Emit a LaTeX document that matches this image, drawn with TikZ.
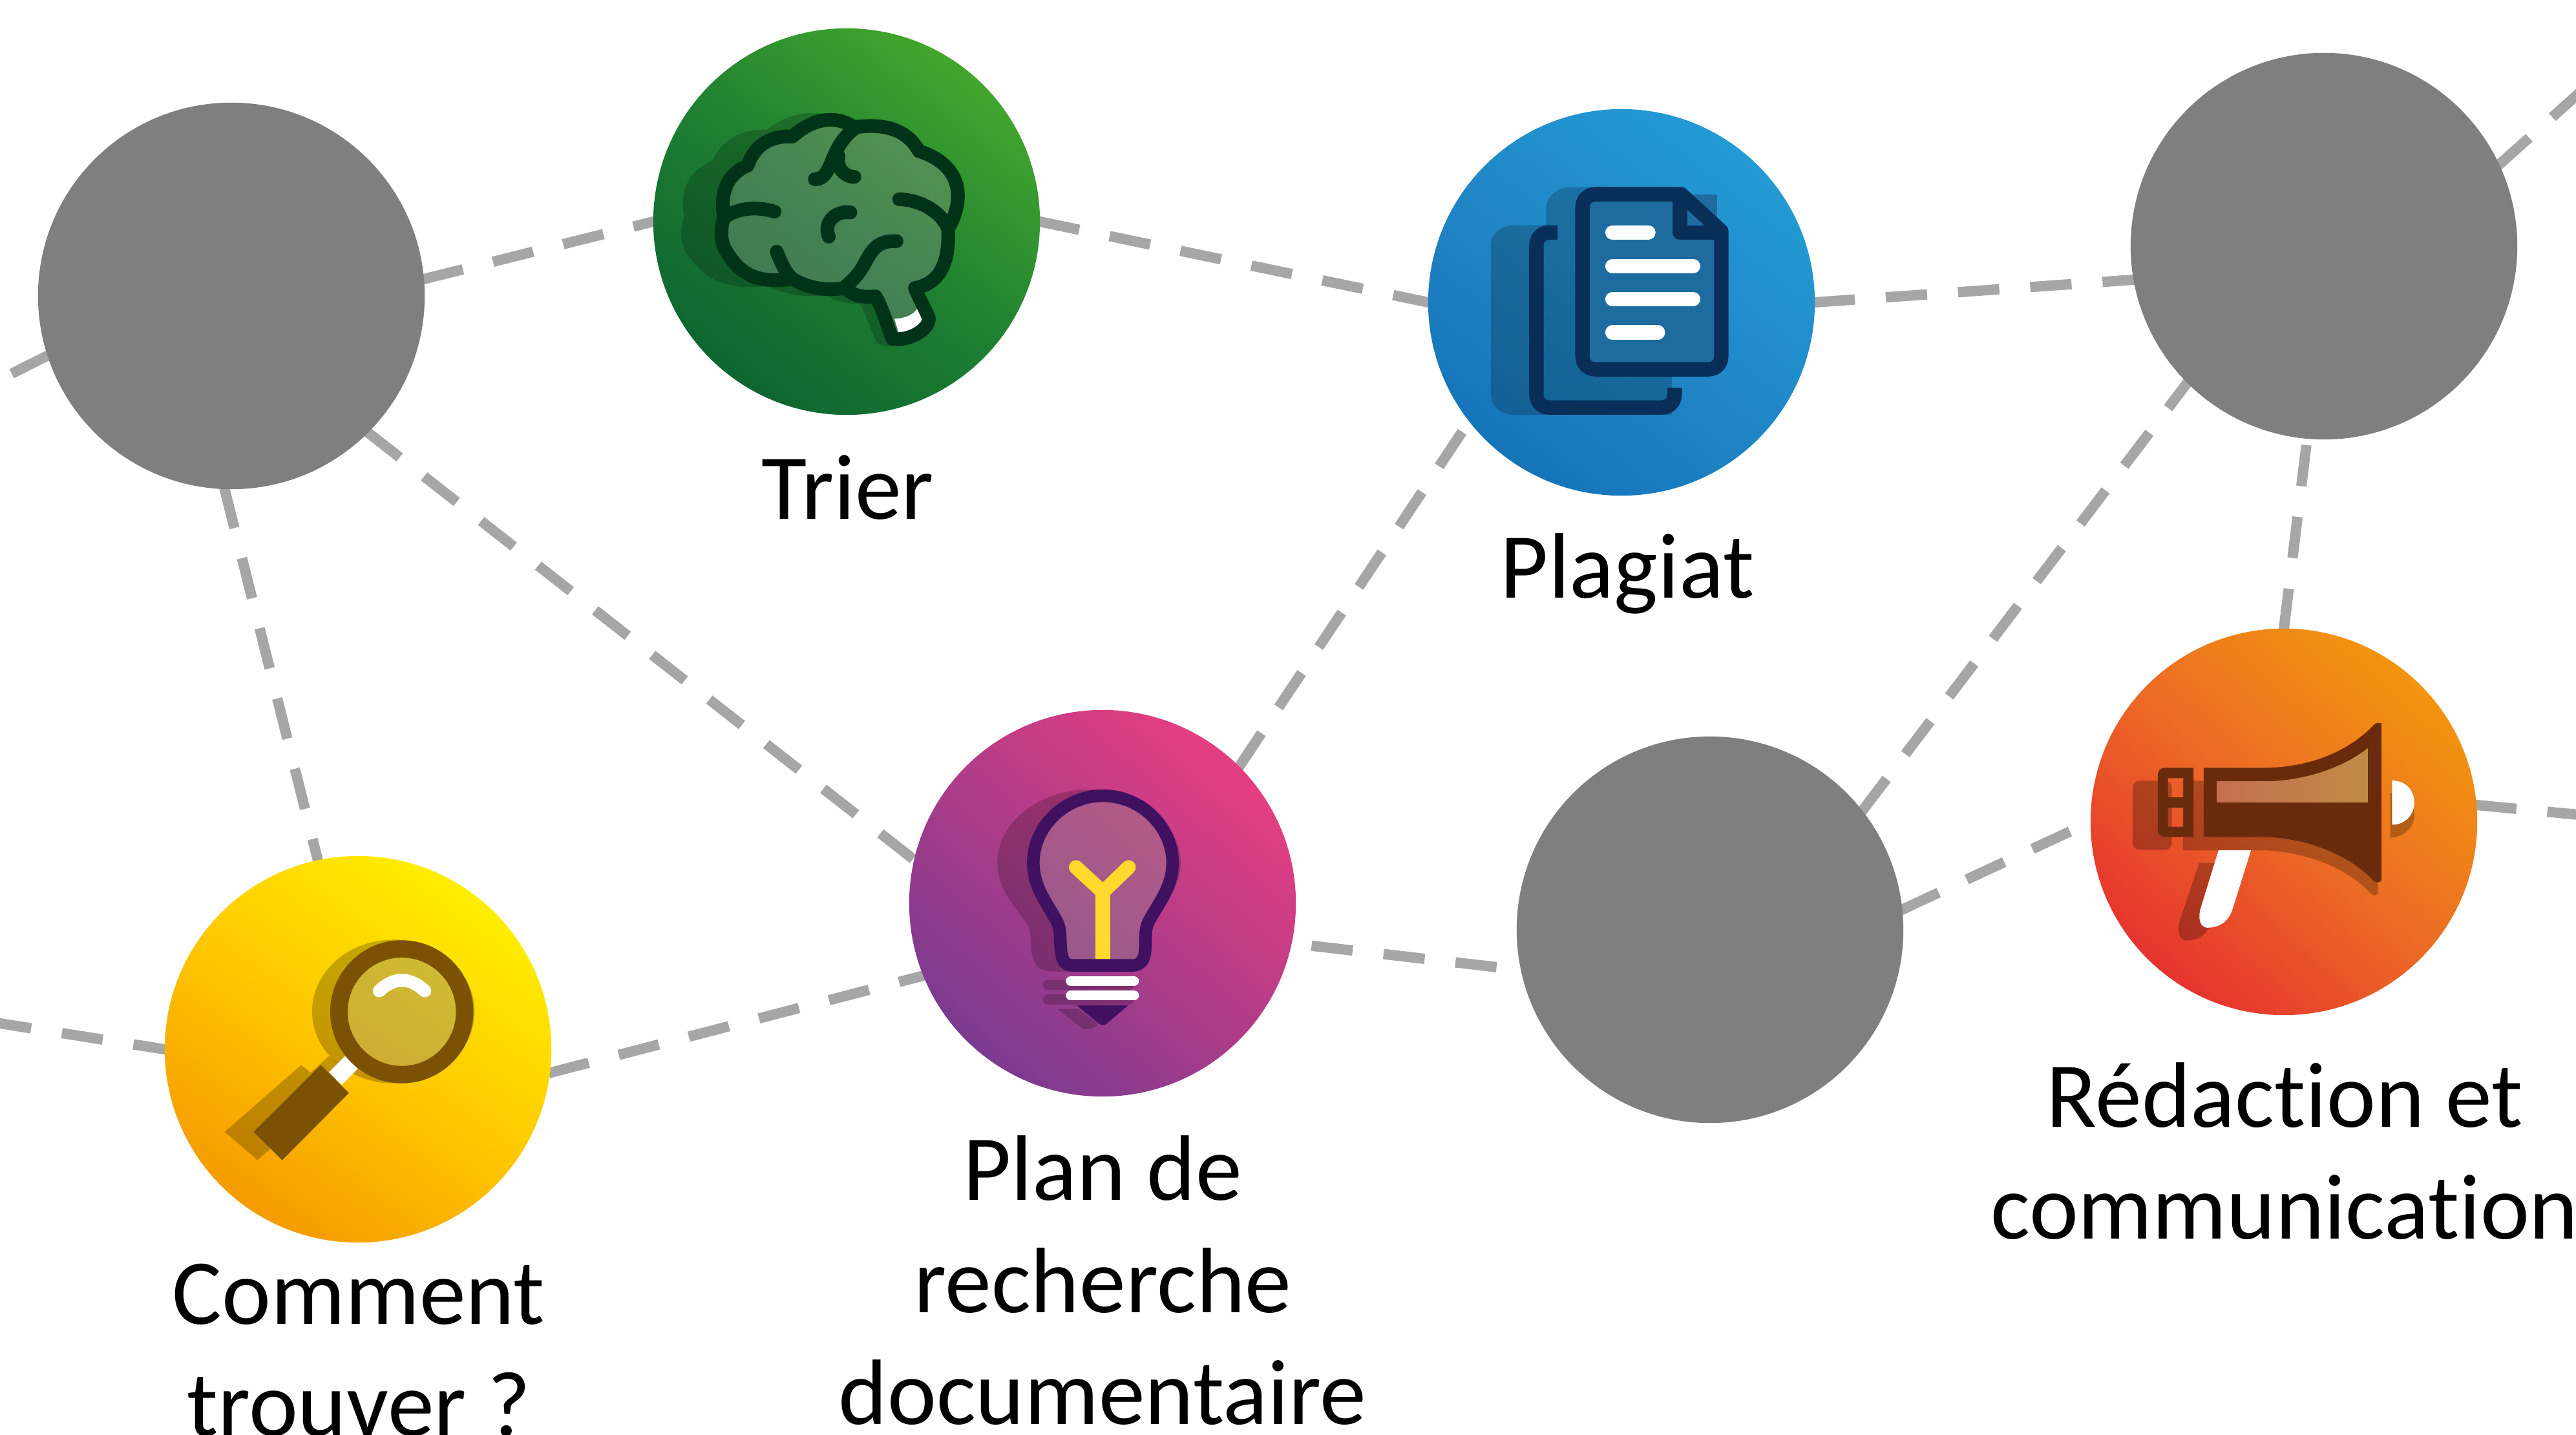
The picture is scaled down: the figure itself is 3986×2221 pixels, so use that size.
\documentclass[tikz,border=0pt]{standalone}
\usepackage{fontspec}
\setmainfont[Ligatures=NoCommon]{Carlito}
\usetikzlibrary{backgrounds}
\definecolor{gO}{HTML}{45A92D}\definecolor{gM}{HTML}{1F8032}\definecolor{gI}{HTML}{0A6030}
\definecolor{bO}{HTML}{229CD6}\definecolor{bM}{HTML}{2187C6}\definecolor{bI}{HTML}{1370B6}
\definecolor{pO}{HTML}{E93E80}\definecolor{pM}{HTML}{B03C88}\definecolor{pI}{HTML}{703A93}
\definecolor{yO}{HTML}{FFEE00}\definecolor{yM}{HTML}{FFC800}\definecolor{yI}{HTML}{F39200}
\definecolor{oO}{HTML}{F39A0C}\definecolor{oM}{HTML}{EC6B25}\definecolor{oI}{HTML}{E6332E}
\pgfdeclareverticalshading{gshade}{100bp}{color(0bp)=(gI);color(20bp)=(gI);color(50bp)=(gM);color(77bp)=(gO);color(100bp)=(gO)}
\pgfdeclareverticalshading{bshade}{100bp}{color(0bp)=(bI);color(20bp)=(bI);color(50bp)=(bM);color(77bp)=(bO);color(100bp)=(bO)}
\pgfdeclareverticalshading{pshade}{100bp}{color(0bp)=(pI);color(20bp)=(pI);color(50bp)=(pM);color(77bp)=(pO);color(100bp)=(pO)}
\pgfdeclareverticalshading{yshade}{100bp}{color(0bp)=(yI);color(20bp)=(yI);color(50bp)=(yM);color(75bp)=(yO);color(100bp)=(yO)}
\pgfdeclareverticalshading{oshade}{100bp}{color(0bp)=(oI);color(25bp)=(oI);color(50bp)=(oM);color(78bp)=(oO);color(100bp)=(oO)}
\definecolor{gris}{HTML}{7F7F7F}
\definecolor{trait}{HTML}{A6A6A6}
\definecolor{brainline}{HTML}{003317}
\definecolor{docline}{HTML}{092F59}
\definecolor{docfill}{HTML}{1E6C9F}
\definecolor{bulbline}{HTML}{3F1160}
\definecolor{fil}{HTML}{FFD92B}
\definecolor{loupe}{HTML}{7B5203}
\definecolor{mega}{HTML}{692B0B}
\definecolor{fenA}{HTML}{C37050}
\definecolor{fenB}{HTML}{C28A45}
\tikzset{
  rond/.style={circle,inner sep=0pt,outer sep=0pt,minimum size=5.98cm,draw=none},
  grisrond/.style={rond,fill=gris},
  lien/.style={draw=trait,line width=0.16cm,dash pattern=on 0.64cm off 0.48cm,shorten <=-0.02cm,shorten >=-0.06cm},
  etiquette/.style={inner sep=0pt,outer sep=0pt,align=center,anchor=base,font=\fontsize{40.9pt}{49.2pt}\selectfont},
  ombre/.style={transparency group,opacity=.2},
  zoomA/.style={x=0.00408cm,y=-0.00408cm},
  zoomB/.style={x=0.003953cm,y=-0.003953cm},
}
\def\brainpath{(295,750) .. controls (280,670) and (300,590) .. (385,555)
 .. controls (410,480) and (470,440) .. (555,445)
 .. controls (610,395) and (700,350) .. (790,410)
 .. controls (890,395) and (985,410) .. (1035,500)
 .. controls (1130,530) and (1183,590) .. (1183,670)
 .. controls (1183,720) and (1165,760) .. (1146,795)
 .. controls (1150,900) and (1130,1000) .. (1020,1020)
 .. controls (1035,1060) and (1060,1100) .. (1073,1135)
 .. controls (1075,1180) and (990,1225) .. (935,1212)
 .. controls (915,1170) and (900,1100) .. (870,1052)
 .. controls (830,1055) and (790,1055) .. (755,1020)
 .. controls (690,1030) and (620,1025) .. (555,985)
 .. controls (460,1000) and (370,990) .. (310,890)
 .. controls (280,850) and (280,800) .. (295,750) -- cycle}
\def\bulbpath{(775,358) .. controls (925,358) and (1048,480) .. (1048,620)
 .. controls (1048,710) and (1000,770) .. (960,840)
 .. controls (935,880) and (945,920) .. (940,970)
 .. controls (935,1010) and (915,1022) .. (890,1022) -- (660,1022)
 .. controls (630,1022) and (618,1010) .. (612,970)
 .. controls (605,920) and (615,880) .. (590,840)
 .. controls (550,770) and (503,710) .. (503,620)
 .. controls (503,480) and (625,358) .. (775,358) -- cycle}
\begin{document}
\begin{tikzpicture}[x=0.01cm,y=-0.01cm]
\useasboundingbox (0,0) rectangle (3986,2221);
% circles
\node[rond,shade,shading=gshade,shading angle=-38] (trier) at (1310,343) {};
\node[rond,shade,shading=bshade,shading angle=-38] (plagiat) at (2509,468) {};
\node[rond,shade,shading=pshade,shading angle=-42] (plan) at (1706,1398) {};
\node[rond,shade,shading=yshade,shading angle=-35] (comment) at (554,1624) {};
\node[rond,shade,shading=oshade,shading angle=-42] (redaction) at (3534,1272) {};
\node[grisrond] (grisA) at (358,458) {};
\node[grisrond] (grisB) at (3596,381) {};
\node[grisrond] (grisC) at (2646,1439) {};
\coordinate (hautD) at (4010,127);
\coordinate (gaucheH) at (-25,600);
\coordinate (gaucheB) at (-25,1580);
\coordinate (droiteM) at (4011,1263);
% connectors
\begin{scope}[on background layer]
\draw[lien] (grisA.198.9) -- (gaucheH);
\draw[lien] (grisA.5.9) -- (trier.180);
\draw[lien] (trier.0) -- (plagiat.180);
\draw[lien] (plagiat.0) -- (grisB.190.6);
\draw[lien] (grisB.25.4) -- (hautD);
\draw[lien] (grisA.-45.4) -- (plan.167.7);
\draw[lien] (grisA.-92) -- (comment.102);
\draw[lien,dash phase=0.13cm] (comment.180) -- (gaucheB);
\draw[lien] (comment.-7.8) -- (plan.202.4);
\draw[lien] (plan.45.7) -- (plagiat.218.1);
\draw[lien,dash phase=0.79cm] (plan.-12) -- (grisC.192.5);
\draw[lien] (grisC.38.4) -- (grisB.225.5);
\draw[lien] (grisC.6.4) -- (redaction.180);
\draw[lien] (redaction.90) -- (grisB.265.4);
\draw[lien] (redaction.5) -- (droiteM);
\end{scope}
% labels
\node[etiquette] (ltrier) at (1312,803) {Trier};
\node[etiquette] (lplagiat) at (2518,925) {Plagiat};
\node[etiquette] (lcomment) at (555,2222) {Comment\\trouver ?};
\node[etiquette] (lplan) at (1706,2204) {Plan de\\recherche\\documentaire};
\node[etiquette] (lredaction) at (3535,1917) {Rédaction et\\communication};
% brain
\begin{scope}[shift={(1000,30)},zoomA]
\begin{scope}[ombre]
\begin{scope}[shift={(-165.6,0)},xscale=1.137]
\fill[black,draw=black,line width=0.212cm,line join=round] \brainpath;
\end{scope}
\end{scope}
\fill[white,opacity=.2] \brainpath;
\fill[white] (942,1137) .. controls (980,1135) and (1010,1125) .. (1030,1098) -- (1050,1135) .. controls (1040,1165) and (990,1190) .. (958,1190) -- cycle;
\draw[brainline,line width=0.212cm,line join=round] \brainpath;
\draw[brainline,line width=0.212cm,line cap=round]
 (640,607) .. controls (710,607) and (690,490) .. (790,415)
 (790,598) .. controls (750,598) and (720,560) .. (730,520)
 (300,750) .. controls (350,715) and (420,710) .. (487,730)
 (775,733) .. controls (720,725) and (670,770) .. (693,825)
 (960,683) .. controls (1040,685) and (1120,730) .. (1146,795)
 (495,882) .. controls (515,930) and (530,965) .. (555,985)
 (950,842) .. controls (880,840) and (860,870) .. (830,925) .. controls (810,965) and (785,990) .. (755,1015);
\end{scope}
% documents
\begin{scope}[shift={(2200,160)},zoomA]
\fill[black,opacity=.2] (350,463) -- (472,463) -- (472,400) .. controls (472,350) and (520,318) .. (565,318) -- (1000,318) -- (1000,1036) -- (950,1036) -- (950,1182) -- (350,1182) .. controls (300,1182) and (262,1150) .. (262,1100) -- (262,540) .. controls (262,495) and (300,463) .. (350,463) -- cycle;
\fill[docfill] (630,345) rectangle (1120,1000);
\draw[docline,line width=0.224cm] (515,490) -- (487,490) .. controls (455,490) and (435,510) .. (435,542) -- (435,1103) .. controls (435,1135) and (455,1155) .. (487,1155) -- (907,1155) .. controls (940,1155) and (960,1135) .. (960,1103) -- (960,1080);
\draw[docline,line width=0.224cm,line join=round] (662,345) -- (985,345) -- (1137,485) -- (1137,957) .. controls (1137,990) and (1117,1010) .. (1085,1010) -- (662,1010) .. controls (630,1010) and (610,990) .. (610,957) -- (610,397) .. controls (610,365) and (630,345) .. (662,345) -- cycle;
\draw[docline,line width=0.224cm,line join=round] (980,345) -- (980,490) -- (1137,490);
\draw[white,line width=0.224cm,line cap=round] (724,490) -- (860,490) (724,618) -- (1030,618) (724,743) -- (1030,743) (724,870) -- (896,870);
\end{scope}
% bulb
\begin{scope}[shift={(1400,1090)},zoomB]
\begin{scope}[ombre]
\begin{scope}[shift={(-231.4,0)},xscale=1.228]
\fill[black,draw=black,line width=0.19cm,line join=round] \bulbpath;
\end{scope}
\end{scope}
\fill[black,opacity=.2,rounded corners=0.07cm] (541,1080) rectangle (895,1118) (541,1136) rectangle (895,1175);
\fill[black,opacity=.2] (597,1193) -- (680,1193) -- (755,1250) .. controls (740,1270) and (710,1280) .. (690,1265) -- cycle;
\fill[white,opacity=.2] \bulbpath;
\draw[fil,line width=0.23cm] (775,1000) -- (775,725);
\draw[fil,line width=0.22cm,line cap=round,line join=miter] (670,638) -- (775,735) -- (876,638);
\draw[bulbline,line width=0.195cm,line join=round] \bulbpath;
\draw[white,line width=0.154cm,line cap=round] (650,1083) -- (897,1083) (650,1140) -- (897,1140);
\fill[bulbline] (672,1178) -- (875,1178) -- (793,1248) .. controls (780,1258) and (770,1258) .. (757,1248) -- cycle;
\end{scope}
% magnifier
\begin{scope}[shift={(250,1320)},zoomB]
\fill[black,opacity=.23] (907,621) ellipse [x radius=318,y radius=281];
\fill[black,opacity=.23] (247,1092) -- (547,830) -- (583,860) -- (655,795) -- (720,850) -- (425,1160) -- (375,1202) -- cycle;
\fill[white,opacity=.2] (940,622) circle [radius=246];
\fill[white] (718,795) -- (768,845) -- (705,908) -- (655,858) -- cycle;
\draw[loupe,line width=0.269cm] (940,622) circle [radius=246];
\fill[loupe] (623,830) -- (733,940) -- (472,1203) -- (360,1092) -- cycle;
\draw[white,line width=0.2cm,line cap=round] (852,540) .. controls (910,485) and (970,485) .. (1030,540);
\end{scope}
% megaphone
\begin{scope}[shift={(3230,970)},zoomB]
\fill[black,opacity=.25,rounded corners=0.1cm] (177,603) -- (330,603) -- (330,873) -- (177,873) -- cycle;
\fill[black,opacity=.25] (373,603) -- (690,603) .. controls (850,603) and (1010,560) .. (1137,470) -- (1137,1045) .. controls (1125,1055) and (1115,1050) .. (1105,1040) .. controls (1010,940) and (840,875) .. (670,875) -- (373,875) -- cycle;
\fill[black,opacity=.25] (437,925) -- (558,925) -- (486,1155) .. controls (468,1210) and (428,1228) .. (388,1228) .. controls (358,1228) and (348,1190) .. (363,1145) -- cycle;
\fill[black,opacity=.25] (1185,650) .. controls (1238,650) and (1279,690) .. (1279,738) .. controls (1279,785) and (1238,825) .. (1185,825) -- cycle;
\fill[white] (513,875) -- (640,875) -- (568,1105) .. controls (550,1160) and (510,1178) .. (470,1178) .. controls (440,1178) and (430,1140) .. (445,1095) -- cycle;
\fill[white] (1192,602) .. controls (1245,602) and (1279,640) .. (1279,688) .. controls (1279,735) and (1245,775) .. (1192,775) -- cycle;
\fill[mega] (455,552) -- (690,552) .. controls (850,552) and (1010,500) .. (1120,385) .. controls (1128,375) and (1140,375) .. (1150,378) -- (1150,995) .. controls (1140,1003) and (1125,1003) .. (1115,990) .. controls (1020,890) and (850,823) .. (680,823) -- (455,823) -- cycle;
\fill[mega,even odd rule] (305,552) -- (415,552) -- (415,823) -- (305,823) .. controls (285,823) and (275,810) .. (275,795) -- (275,580) .. controls (275,565) and (285,552) .. (305,552) -- cycle (315,593) rectangle (375,668) (315,708) rectangle (375,783);
\fill[left color=fenA,right color=fenB] (507,605) -- (690,605) .. controls (830,605) and (990,560) .. (1097,475) -- (1097,688) -- (507,688) -- cycle;
\end{scope}
\end{tikzpicture}
\end{document}
